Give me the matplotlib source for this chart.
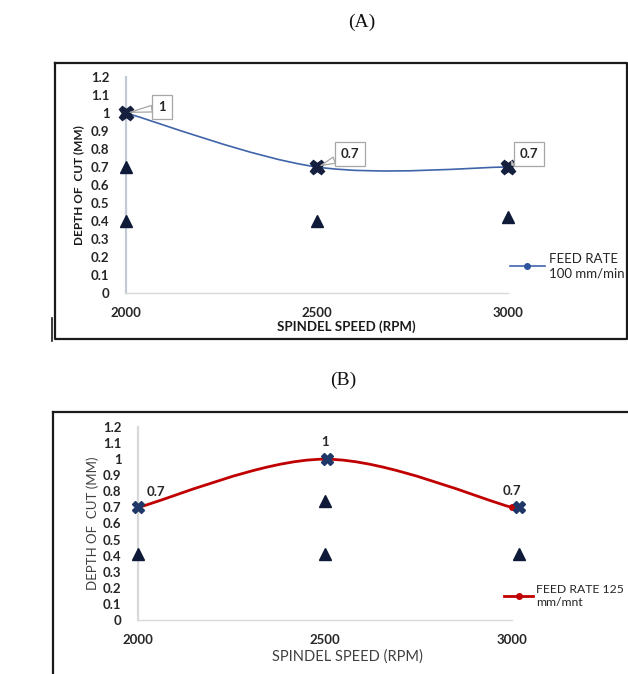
import numpy as np
import matplotlib
matplotlib.use("Agg")
import matplotlib.pyplot as plt
from matplotlib.path import Path
from matplotlib.patches import PathPatch
from matplotlib.lines import Line2D

plt.rcParams['font.family'] = ['Lato', 'DejaVu Sans']

# ---- data -----------------------------------------------------------
speed = [2000, 2500, 3000]
yticks = [0, 0.1, 0.2, 0.3, 0.4, 0.5, 0.6, 0.7, 0.8, 0.9, 1.0, 1.1, 1.2]
ytick_labels = ['0', '0.1', '0.2', '0.3', '0.4', '0.5', '0.6', '0.7',
                '0.8', '0.9', '1', '1.1', '1.2']

# (A) feed rate 100 mm/min
depth_a = [1.0, 0.7, 0.7]
tri_x_a = [2000, 2000, 2500, 3000]
tri_y_a = [0.7, 0.4, 0.4, 0.42]
labels_a = ['1', '0.7', '0.7']

# (B) feed rate 125 mm/mnt
depth_b = [0.7, 1.0, 0.7]
cross_x_b = [2000, 2505, 3020]
cross_y_b = [0.7, 1.0, 0.7]
tri_x_b = [2000, 2500, 2500, 3020]
tri_y_b = [0.41, 0.74, 0.41, 0.41]
labels_b = ['0.7', '1', '0.7']

W, H = 628, 674
fig = plt.figure(figsize=(W / 100, H / 100), dpi=100)


def px_axes(x0, y_top, x1, y_bot):
    return fig.add_axes([x0 / W, (H - y_bot) / H, (x1 - x0) / W, (y_bot - y_top) / H])


def fig_line(xs, ys, lw=1.6, color='#1a1a1a'):
    fig.add_artist(Line2D([x / W for x in xs], [(H - y) / H for y in ys],
                          transform=fig.transFigure, lw=lw, color=color))


def smooth_path(xs, ys):
    pts = np.column_stack([xs, ys]).astype(float)
    n = len(pts)
    verts = [pts[0]]
    codes = [Path.MOVETO]
    for i in range(n - 1):
        p0 = pts[max(i - 1, 0)]
        p1 = pts[i]
        p2 = pts[i + 1]
        p3 = pts[min(i + 2, n - 1)]
        verts += [p1 + (p2 - p0) / 6, p2 - (p3 - p1) / 6, p2]
        codes += [Path.CURVE4] * 3
    return Path(verts, codes)


def style_axes(ax, tick_color, left_color, bottom_color, pad_y, pad_x):
    ax.set_xlim(2000, 3000)
    ax.set_ylim(0, 1.2)
    ax.set_xticks(speed)
    ax.set_xticklabels([str(s) for s in speed])
    ax.set_yticks(yticks)
    ax.set_yticklabels(ytick_labels)
    for s in ('top', 'right'):
        ax.spines[s].set_visible(False)
    ax.spines['left'].set_color(left_color)
    ax.spines['left'].set_linewidth(1.6)
    ax.spines['bottom'].set_color(bottom_color)
    ax.spines['bottom'].set_linewidth(1.0)
    ax.tick_params(axis='both', length=0, labelsize=9.5, colors=tick_color)
    ax.tick_params(axis='y', pad=pad_y)
    ax.tick_params(axis='x', pad=pad_x)
    for t in ax.get_xticklabels() + ax.get_yticklabels():
        t.set_fontweight('bold')
    ax.patch.set_alpha(0)


# ---- panel (A) ------------------------------------------------------
fig.text(362 / W, (H - 22) / H, '(A)', family='Liberation Serif', fontsize=14,
         ha='center', va='center', color='#111111')
fig_line([55, 627, 627, 55, 55], [63, 63, 339, 339, 63])
fig_line([52, 52], [318, 341], lw=1.2)

axA = px_axes(126, 77, 508, 293)
style_axes(axA, '#262626', '#C3CAD6', '#D9D9D9', 12, 10)
axA.add_patch(PathPatch(smooth_path(speed, depth_a), fill=False,
                        ec='#3F64AA', lw=1.2, clip_on=False))
axA.plot(speed, depth_a, ls='none', marker='o', ms=4, color='#2F55A0', clip_on=False)
lineA = Line2D([], [], color='#3F64AA', lw=1.2, marker='o', ms=4,
               mfc='#2F55A0', mec='#2F55A0')
axA.plot(speed, depth_a, ls='none', marker='X', ms=10.5, color='#15203F',
         mec='#15203F', clip_on=False, zorder=5)
axA.plot(tri_x_a, tri_y_a, ls='none', marker='^', ms=8, color='#0E1A38',
         clip_on=False, zorder=5)
for x, y, lab, off in zip(speed, depth_a, labels_a, [(36, 6), (33, 13), (21, 13)]):
    axA.annotate(lab, (x, y), xytext=off, textcoords='offset pixels',
                 ha='center', va='center', fontsize=9.5, fontweight='bold',
                 color='#262626',
                 bbox=dict(boxstyle='square,pad=0.45', fc='white', ec='#A6A6A6', lw=0.9),
                 arrowprops=dict(arrowstyle='wedge,tail_width=0.5', fc='white',
                                 ec='#A6A6A6', lw=0.9, shrinkA=0, shrinkB=3),
                 annotation_clip=False, zorder=6)
axA.set_ylabel('DEPTH OF  CUT (MM)', fontsize=8.5, fontweight='bold',
               color='#1a1a1a', labelpad=5)
axA.set_xlabel('SPINDEL SPEED (RPM)', fontsize=9.5, fontweight='bold',
               color='#1a1a1a', labelpad=2)
axA.xaxis.set_label_coords((346 - 126) / 382, -(320 - 293) / 216)
axA.legend([lineA], ['FEED RATE\n100 mm/min'], loc='center left',
           bbox_to_anchor=(505 / W, (H - 266) / H), bbox_transform=fig.transFigure,
           frameon=False, fontsize=9.5, handlelength=2.6, handletextpad=0.3,
           borderaxespad=0, labelcolor='#262626')

# ---- panel (B) ------------------------------------------------------
fig.text(343 / W, (H - 380) / H, '(B)', family='Liberation Serif', fontsize=14,
         ha='center', va='center', color='#111111')
fig_line([53, 53], [412, 674])
fig_line([53, 628], [412, 412])

axB = px_axes(138, 427, 512, 620)
style_axes(axB, '#262626', '#D9D9D9', '#D9D9D9', 12, 10)
axB.add_patch(PathPatch(smooth_path(speed, depth_b), fill=False,
                        ec='#C00000', lw=2.0, clip_on=False))
axB.plot(speed, depth_b, ls='none', marker='o', ms=4, color='#C00000', clip_on=False)
lineB = Line2D([], [], color='#C00000', lw=2.0, marker='o', ms=4)
axB.plot(cross_x_b, cross_y_b, ls='none', marker='X', ms=9, color='#1F3868',
         clip_on=False, zorder=5)
axB.plot(tri_x_b, tri_y_b, ls='none', marker='^', ms=8, color='#0E1A38',
         clip_on=False, zorder=5)
for x, y, lab, off in zip(speed, depth_b, labels_b, [(18, 15), (0, 17), (0, 16)]):
    axB.annotate(lab, (x, y), xytext=off, textcoords='offset pixels',
                 ha='center', va='center', fontsize=9.5, fontweight='bold',
                 color='#262626', annotation_clip=False)
axB.set_ylabel('DEPTH OF  CUT (MM)', fontsize=9.5, color='#404040', labelpad=3)
axB.set_xlabel('SPINDEL SPEED (RPM)', fontsize=10.5, color='#404040')
axB.xaxis.set_label_coords((347 - 138) / 374, -(649 - 620) / 193)
axB.legend([lineB], ['FEED RATE 125\nmm/mnt'], loc='center left',
           bbox_to_anchor=(499 / W, (H - 596) / H), bbox_transform=fig.transFigure,
           frameon=False, fontsize=8.8, handlelength=2.4, handletextpad=0.25,
           borderaxespad=0, labelcolor='#262626')

fig.savefig('out.png', dpi=100, facecolor='white')
